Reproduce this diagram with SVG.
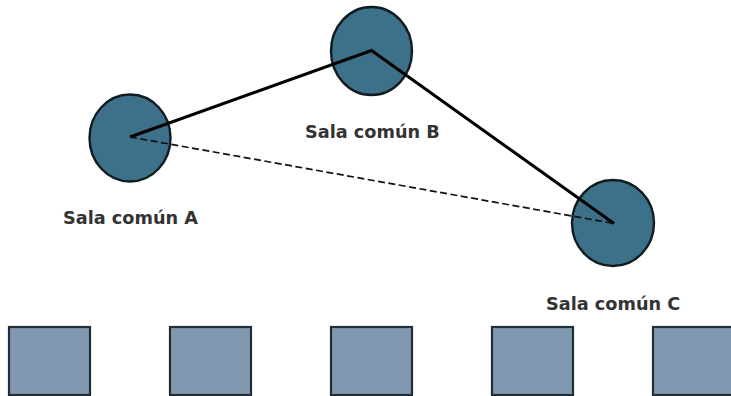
<svg xmlns="http://www.w3.org/2000/svg" width="731" height="396" viewBox="0 0 731 396">
<style>
.room{fill:#3d7189;stroke:#111c22;stroke-width:2.4}
.box{fill:#8199b0;stroke:#222d36;stroke-width:2.2}
.lbl{font-family:"DejaVu Sans",sans-serif;font-weight:bold;font-size:17.7px;fill:#333333}
.solid{stroke:#000;stroke-width:3;fill:none;stroke-linejoin:miter}
.dash{stroke:#111;stroke-width:1.7;fill:none;stroke-dasharray:7 3.5}
</style>
<rect width="731" height="396" fill="#ffffff"/>
<g id="roomA"><ellipse class="room" cx="130" cy="138" rx="40.5" ry="43.5"/></g>
<g id="roomB"><ellipse class="room" cx="371.5" cy="51" rx="40.5" ry="44"/></g>
<g id="roomC"><ellipse class="room" cx="613" cy="223" rx="41" ry="43"/></g>
<g id="connectors">
<polyline class="solid" points="130,137 371.5,50.5 614,223.5"/>
<line class="dash" x1="130" y1="137" x2="614" y2="223.5"/>
</g>
<g id="labelA"><text class="lbl" x="63" y="224">Sala común A</text></g>
<g id="labelB"><text class="lbl" x="305" y="138">Sala común B</text></g>
<g id="labelC"><text class="lbl" x="546" y="310">Sala común C</text></g>
<g id="box1"><rect class="box" x="9" y="327" width="81" height="68"/></g>
<g id="box2"><rect class="box" x="170" y="327" width="81" height="68"/></g>
<g id="box3"><rect class="box" x="331" y="327" width="81" height="68"/></g>
<g id="box4"><rect class="box" x="492" y="327" width="81" height="68"/></g>
<g id="box5"><rect class="box" x="653" y="327" width="81" height="68"/></g>
</svg>
